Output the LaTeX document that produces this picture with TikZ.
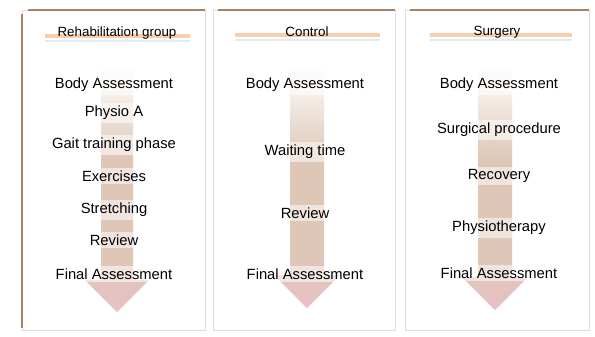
\documentclass[tikz,border=0pt]{standalone}
\usepackage{fontspec}
\setmainfont{Liberation Sans}

\definecolor{rimbrown}{RGB}{168,128,102}
\definecolor{titleline}{RGB}{248,206,172}
\definecolor{blueline}{RGB}{222,236,244}
\definecolor{arrowtan}{RGB}{222,199,183}
\definecolor{arrowpink}{RGB}{232,192,198}
\definecolor{panelgrey}{RGB}{228,218,218}

\pgfdeclareverticalshading{arrowshade}{100bp}{color(0bp)=(arrowpink); color(25bp)=(arrowpink);
  color(36bp)=(arrowtan); color(56bp)=(arrowtan); color(75bp)=(white); color(100bp)=(white)}

\tikzset{
  panel/.style={draw=panelgrey, line width=0.5pt, fill=white},
  rim/.style={draw=rimbrown, line width=1.3pt},
  tline/.style={draw=titleline, line width=2.2pt},
  bline/.style={draw=blueline, line width=1pt},
  bigarrow/.style={shading=arrowshade, draw=none},
  titletext/.style={font=\fontsize{9.5}{11}\selectfont, inner sep=1pt},
  item/.style={font=\fontsize{10.5}{12}\selectfont, fill=white, fill opacity=0.55,
    text opacity=1, inner sep=2pt}
}

\begin{document}
\begin{tikzpicture}[x=0.025cm, y=-0.025cm]
\useasboundingbox (0,0) rectangle (595,337);
% rehabilitation group
\draw[panel] (22,10) rectangle (205,330);
\draw[rim] (28,10) -- (205,10);
\draw[rim] (22,14) -- (22,328);
\path[bigarrow] (101,66) -- (133,66) -- (133,280) -- (149,280) -- (117,312)
  -- (85,280) -- (101,280) -- cycle;
\draw[tline] (45,36) -- (190,36);
\draw[bline] (45,41) -- (190,41);
\node[titletext] (titleA) at (117,33) {Rehabilitation group};
\node[item] (a1) at (114,85) {Body Assessment};
\node[item] (a2) at (114,113) {Physio A};
\node[item] (a3) at (114,145) {Gait training phase};
\node[item] (a4) at (114,176) {Exercises};
\node[item] (a5) at (114,210) {Stretching};
\node[item] (a6) at (114,240) {Review};
\node[item] (a7) at (114,274) {Final Assessment};
% control
\draw[panel] (213,10) rectangle (395,330);
\draw[rim] (218,10) -- (395,10);
\path[bigarrow] (290,66) -- (324,66) -- (324,275) -- (340,275) -- (307,308)
  -- (274,275) -- (290,275) -- cycle;
\draw[tline] (235,35) -- (380,35);
\draw[bline] (235,40) -- (380,40);
\node[titletext] (titleB) at (307,32) {Control};
\node[item] (b1) at (305,85) {Body Assessment};
\node[item] (b2) at (305,152) {Waiting time};
\node[item] (b3) at (305,213) {Review};
\node[item] (b4) at (305,274) {Final Assessment};
% surgery
\draw[panel] (405,10) rectangle (589,330);
\draw[rim] (410,10) -- (589,10);
\path[bigarrow] (478,66) -- (512,66) -- (512,277) -- (528,277) -- (495,310)
  -- (462,277) -- (478,277) -- cycle;
\draw[tline] (430,35) -- (572,35);
\draw[bline] (430,40) -- (572,40);
\node[titletext] (titleC) at (497,32) {Surgery};
\node[item] (c1) at (499,85) {Body Assessment};
\node[item] (c2) at (499,130) {Surgical procedure};
\node[item] (c3) at (499,176) {Recovery};
\node[item] (c4) at (499,228) {Physiotherapy};
\node[item] (c5) at (499,273) {Final Assessment};
\end{tikzpicture}
\end{document}
